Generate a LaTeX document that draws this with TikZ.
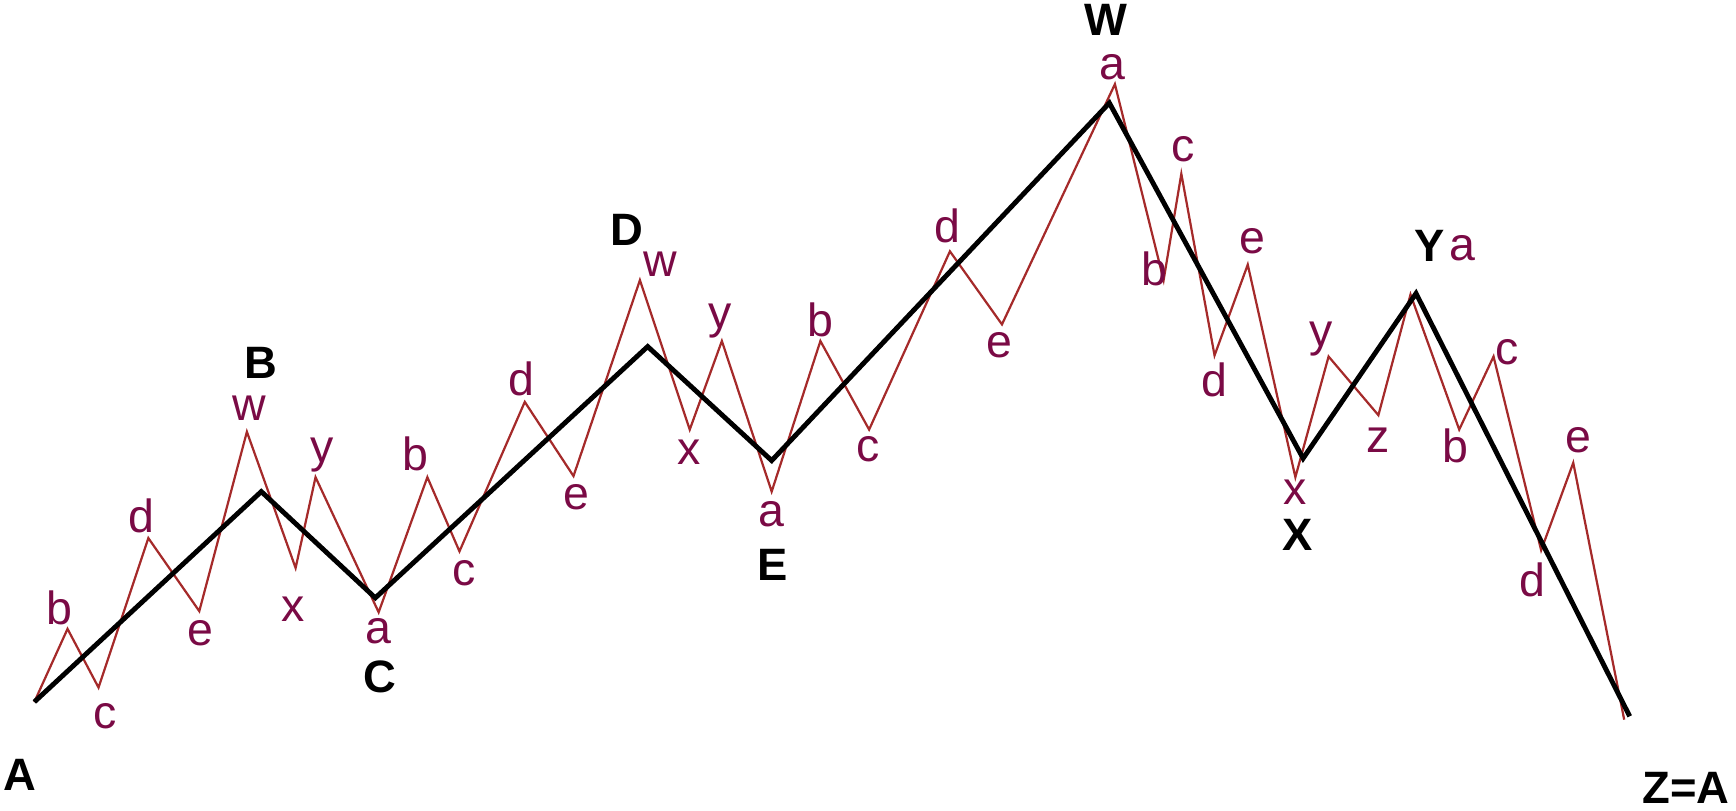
\documentclass[tikz,border=0pt]{standalone}
\usepackage{fontspec}
\setmainfont{Liberation Sans}
\definecolor{wavered}{HTML}{A52A2A}
\definecolor{labelcol}{HTML}{7A0A45}
\begin{document}
\begin{tikzpicture}[x=1pt,y=-1pt,
  main/.style={line width=4.4pt,black,line join=miter},
  sub/.style={line width=2pt,wavered,line join=miter},
  lab/.style={inner sep=0pt,text=labelcol,font=\fontsize{42}{47}\selectfont},
  big/.style={inner sep=0pt,text=black,font=\fontsize{41}{46}\selectfont\bfseries}]
\useasboundingbox (0,0) rectangle (1568,732);
% main wave points
\coordinate (A) at (31,634);
\coordinate (B) at (236,444);
\coordinate (C) at (339,540);
\coordinate (D) at (585,313);
\coordinate (E) at (697,416);
\coordinate (W) at (1002,93);
\coordinate (X) at (1177,414);
\coordinate (Y) at (1279,265);
\coordinate (Z) at (1472,647);
% sub wave points
\coordinate (p0) at (31,634);
\coordinate (p1) at (61,568);
\coordinate (p2) at (89,621);
\coordinate (p3) at (134,486);
\coordinate (p4) at (180,552);
\coordinate (p5) at (223,390);
\coordinate (p6) at (267,513);
\coordinate (p7) at (285,431);
\coordinate (p8) at (342,553);
\coordinate (p9) at (386,431);
\coordinate (p10) at (415,498);
\coordinate (p11) at (474,363);
\coordinate (p12) at (518,430);
\coordinate (p13) at (578,253);
\coordinate (p14) at (623,388);
\coordinate (p15) at (652,308);
\coordinate (p16) at (697,444);
\coordinate (p17) at (741,308);
\coordinate (p18) at (785,388);
\coordinate (p19) at (858,227);
\coordinate (p20) at (905,293);
\coordinate (p21) at (1007,76);
\coordinate (p22) at (1051,253);
\coordinate (p23) at (1067,157);
\coordinate (p24) at (1097,321);
\coordinate (p25) at (1127,239);
\coordinate (p26) at (1170,431);
\coordinate (p27) at (1200,322);
\coordinate (p28) at (1245,375);
\coordinate (p29) at (1274,266);
\coordinate (p30) at (1318,388);
\coordinate (p31) at (1349,322);
\coordinate (p32) at (1392,497);
\coordinate (p33) at (1421,418);
\coordinate (p34) at (1467,650);
\draw[sub] (p0) -- (p1) -- (p2) -- (p3) -- (p4) -- (p5) -- (p6) -- (p7) -- (p8) -- (p9) -- (p10) -- (p11) -- (p12) -- (p13) -- (p14) -- (p15) -- (p16) -- (p17) -- (p18) -- (p19) -- (p20) -- (p21) -- (p22) -- (p23) -- (p24) -- (p25) -- (p26) -- (p27) -- (p28) -- (p29) -- (p30) -- (p31) -- (p32) -- (p33) -- (p34);
\draw[main] (A) -- (B) -- (C) -- (D) -- (E) -- (W) -- (X) -- (Y) -- (Z);
% big labels
\node[big] (lA) at (18,700) {A};
\node[big] (lB) at (236,328) {B};
\node[big] (lC) at (343,611) {C};
\node[big] (lD) at (566,208) {D};
\node[big] (lE) at (698,510) {E};
\node[big] (lW) at (999,18) {W};
\node[big] (lX) at (1172,483) {X};
\node[big] (lY) at (1291,222) {Y};
\node[big] (lZ) at (1523,712) {Z=A};
% small labels
\node[lab] (l1) at (54,549) {b};
\node[lab] (l2) at (95,647) {c};
\node[lab] (l3) at (128,466) {d};
\node[lab] (l4) at (181,572) {e};
\node[lab] (l5) at (225,369) {w};
\node[lab] (l6) at (265,550) {x};
\node[lab] (l7) at (291,411) {y};
\node[lab] (l8) at (342,570) {a};
\node[lab] (l9) at (375,410) {b};
\node[lab] (l10) at (419,518) {c};
\node[lab] (l11) at (471,342) {d};
\node[lab] (l12) at (521,449) {e};
\node[lab] (l13) at (596,239) {w};
\node[lab] (l14) at (622,408) {x};
\node[lab] (l15) at (650,290) {y};
\node[lab] (l16) at (697,464) {a};
\node[lab] (l17) at (741,289) {b};
\node[lab] (l18) at (784,406) {c};
\node[lab] (l19) at (856,204) {d};
\node[lab] (l20) at (903,312) {e};
\node[lab] (l21) at (1005,61) {a};
\node[lab] (l22) at (1043,243) {b};
\node[lab] (l23) at (1069,135) {c};
\node[lab] (l24) at (1097,343) {d};
\node[lab] (l25) at (1131,218) {e};
\node[lab] (l26) at (1170,445) {x};
\node[lab] (l27) at (1193,306) {y};
\node[lab] (l28) at (1245,398) {z};
\node[lab] (l29) at (1321,224) {a};
\node[lab] (l30) at (1315,403) {b};
\node[lab] (l31) at (1361,318) {c};
\node[lab] (l32) at (1384,524) {d};
\node[lab] (l33) at (1426,398) {e};
\end{tikzpicture}
\end{document}
